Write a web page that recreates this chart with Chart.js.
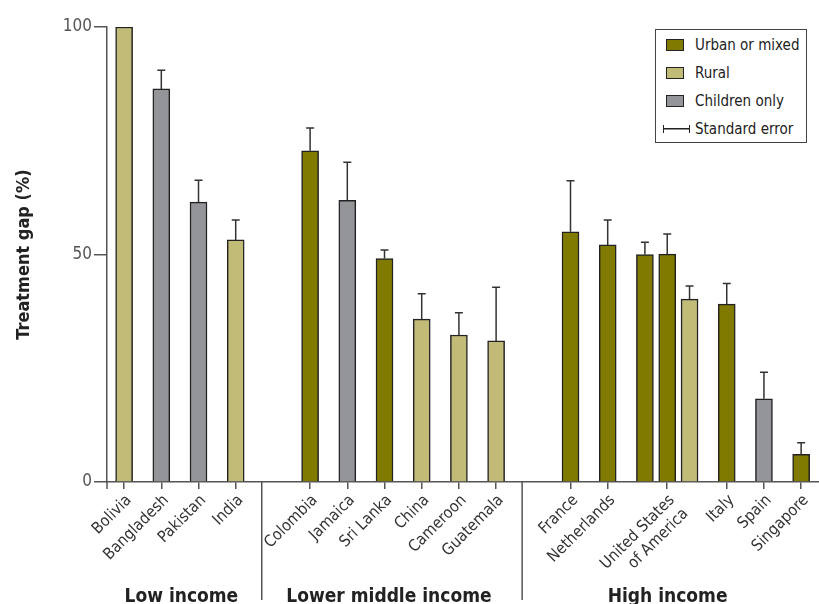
<!DOCTYPE html>
<html>
<head>
<meta charset="utf-8">
<title>Treatment gap by country</title>
<script src="https://cdn.jsdelivr.net/npm/chart.js@4.4.1/dist/chart.umd.min.js"></script>
<style>
  body { margin: 0; background: #fff; }
  .wrap { position: relative; width: 819px; height: 604px; }
  .legend {
    position: absolute; left: 655px; top: 29px; width: 150px; height: 112px;
    border: 1px solid #444; background: #fff; color: #222;
    font-family: 'DejaVu Sans Condensed', 'Liberation Sans', sans-serif;
    font-size: 15px;
  }
  .legend .row { position: absolute; left: 10px; height: 20px; display: flex; align-items: center; white-space: nowrap; }
  .legend .swatch { width: 16px; height: 10px; border: 1.5px solid #222; margin-right: 11px; }
  .legend .se {
    width: 25px; height: 8px; margin-left: -3px; margin-right: 5px;
    border-left: 1.5px solid #222; border-right: 1.5px solid #222;
    background: linear-gradient(#222, #222) center / 100% 1.5px no-repeat;
  }
</style>
</head>
<body>
<div class="wrap">
  <canvas id="gapChart" width="819" height="604"></canvas>
  <div class="legend"></div>
</div>
<script>
const narrow = "'DejaVu Sans Condensed', 'Liberation Sans', sans-serif"

// countries on the axis, in order, and the income group each belongs to
const incomeGroups = ["Low income", "Lower middle income", "High income"]
const tickLabels = [
  "Bolivia", "Bangladesh", "Pakistan", "India",
  "Colombia", "Jamaica", "Sri Lanka", "China", "Cameroon", "Guatemala",
  "France", "Netherlands", ["United States", "of America"], "Italy", "Spain", "Singapore",
]
const countryGroup = [0, 0, 0, 0, 1, 1, 1, 1, 1, 1, 2, 2, 2, 2, 2, 2]

// study settings
const settingNames = ["Urban or mixed", "Rural", "Children only"]
const settingColors = ["#817a00", "#c2bb78", "#949599"]

// one entry per bar (the USA has three studies)
const barCountry = [0, 1, 2, 3, 4, 5, 6, 7, 8, 9, 10, 11, 12, 12, 12, 13, 14, 15]
const barSetting = [1, 2, 2, 1, 0, 2, 0, 1, 1, 1, 0, 0, 0, 0, 1, 0, 2, 0]
const treatmentGap = [100, 86.4, 61.5, 53.2, 72.8, 61.9, 49.1, 35.8, 32.3, 31.0, 55.0, 52.1, 50.0, 50.1, 40.2, 39.1, 18.3, 6.1]
const standardError = [null, 4.1, 4.8, 4.4, 5.0, 8.4, 1.9, 5.6, 4.9, 11.8, 11.2, 5.5, 2.7, 4.4, 2.9, 4.5, 5.8, 2.5]

// slot on the x axis: 1 per country, an empty slot between income groups,
// bars of the same country packed closer together
const barX = []
let slot = 1
barCountry.forEach((c, i) => {
  if (i > 0) {
    const prev = barCountry[i - 1]
    if (c === prev) slot += 0.6
    else slot += countryGroup[c] !== countryGroup[prev] ? 2 : 1
  }
  barX.push(slot)
})
const tickX = tickLabels.map((_, c) => {
  const xs = barX.filter((_, i) => barCountry[i] === c)
  return xs.reduce((a, b) => a + b, 0) / xs.length
})

const datasets = settingNames.map((name, s) => ({
  label: name,
  data: barX
    .map((x, i) => ({ x, y: treatmentGap[i], se: standardError[i], s: barSetting[i] }))
    .filter((d) => d.s === s),
  backgroundColor: settingColors[s],
  borderColor: "#222",
  borderWidth: 1.5,
  barThickness: 17,
  grouped: false,
}))

// whiskers: only the upper half of the standard error is drawn
const errorBars = {
  id: "errorBars",
  afterDatasetsDraw(chart) {
    const { ctx, scales: { x, y } } = chart
    ctx.save()
    ctx.strokeStyle = "#333"
    ctx.lineWidth = 1.5
    chart.data.datasets.forEach((ds) => {
      ds.data.forEach((d) => {
        if (!d.se) return
        const px = x.getPixelForValue(d.x)
        const top = y.getPixelForValue(d.y + d.se)
        ctx.beginPath()
        ctx.moveTo(px, y.getPixelForValue(d.y))
        ctx.lineTo(px, top)
        ctx.moveTo(px - 4, top)
        ctx.lineTo(px + 4, top)
        ctx.stroke()
      })
    })
    ctx.restore()
  },
}

// dividers and names of the income groups under the axis
const incomeBands = {
  id: "incomeBands",
  afterDraw(chart) {
    const { ctx, chartArea, scales: { x } } = chart
    const edges = [chartArea.left]
    for (let c = 1; c < tickLabels.length; c++) {
      if (countryGroup[c] !== countryGroup[c - 1]) {
        edges.push(x.getPixelForValue(tickX[c - 1] + 0.7))
      }
    }
    edges.push(chartArea.right)

    ctx.save()
    ctx.strokeStyle = "#555"
    ctx.lineWidth = 1.5
    ctx.beginPath()
    ctx.moveTo(chartArea.left, chartArea.bottom)
    ctx.lineTo(chartArea.left, chartArea.bottom + 7)
    for (let i = 1; i < edges.length - 1; i++) {
      ctx.moveTo(edges[i], chartArea.bottom)
      ctx.lineTo(edges[i], 600)
    }
    ctx.stroke()

    ctx.fillStyle = "#222"
    ctx.font = "bold 19px " + narrow
    ctx.textAlign = "center"
    ctx.textBaseline = "alphabetic"
    incomeGroups.forEach((g, i) => {
      ctx.fillText(g, (edges[i] + edges[i + 1]) / 2 - 3, 602)
    })
    ctx.restore()
  },
}

Chart.defaults.font.family = narrow

new Chart(document.getElementById("gapChart"), {
  type: "bar",
  data: { datasets },
  plugins: [errorBars, incomeBands],
  options: {
    responsive: false,
    animation: false,
    layout: { padding: { top: 27, left: 0, right: 0, bottom: 0 } },
    plugins: { legend: { display: false }, tooltip: { enabled: false } },
    scales: {
      x: {
        type: "linear",
        offset: false,
        min: barX[0] - 0.46,
        max: barX[barX.length - 1] + 0.48,
        afterBuildTicks: (scale) => {
          scale.ticks = tickX.map((v) => ({ value: v }))
        },
        afterFit: (scale) => {
          scale.height = 122
        },
        ticks: {
          autoSkip: false,
          minRotation: 45,
          maxRotation: 45,
          padding: 2,
          labelOffset: 5,
          color: "#333",
          font: { size: 16 },
          callback: (value, index) => tickLabels[index],
        },
        grid: { offset: false, drawOnChartArea: false, tickLength: 7, color: "#555", lineWidth: 1.5 },
        border: { color: "#555", width: 1.5 },
      },
      y: {
        min: 0,
        max: 100,
        afterFit: (scale) => {
          scale.width = 107
        },
        ticks: { stepSize: 50, color: "#555", padding: 2, font: { size: 17 } },
        grid: { drawOnChartArea: false, tickLength: 13, color: "#555", lineWidth: 1.5 },
        border: { color: "#555", width: 1.5 },
        title: {
          display: true,
          text: "Treatment gap (%)",
          color: "#222",
          font: { size: 18, weight: "bold" },
          padding: { top: 14, bottom: 0 },
        },
      },
    },
  },
})

// legend box
const legend = document.querySelector(".legend")
settingNames.forEach((name, s) => {
  legend.innerHTML += `
    <div class="row" style="top:${5 + s * 28}px">
      <span class="swatch" style="background:${settingColors[s]}"></span>${name}
    </div>`
})
legend.innerHTML += `
  <div class="row" style="top:${5 + 3 * 28}px"><span class="se"></span>Standard error</div>`
</script>
</body>
</html>
